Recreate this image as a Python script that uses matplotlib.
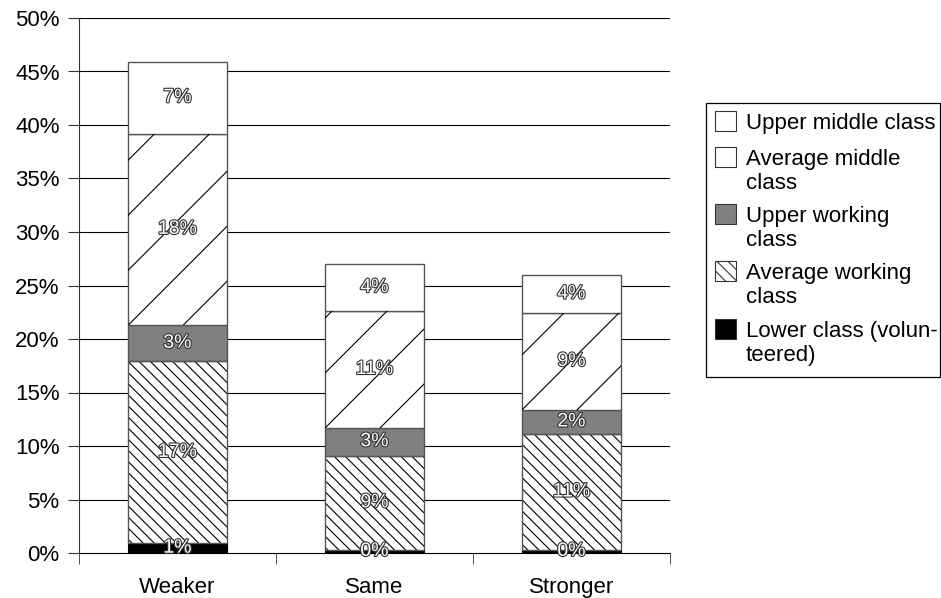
import numpy as np
import matplotlib
matplotlib.use("Agg")
import matplotlib.pyplot as plt
import matplotlib.patheffects as pe
from matplotlib.lines import Line2D
from matplotlib.patches import Rectangle

plt.rcParams['font.family'] = ['Liberation Sans', 'DejaVu Sans']
plt.rcParams['hatch.linewidth'] = 0.8

# Perceived change in class position, share of respondents (%)
categories = ['Weaker', 'Same', 'Stronger']
lower_class = [0.9, 0.3, 0.3]
average_working = [17.0, 8.8, 10.8]
upper_working = [3.4, 2.6, 2.3]
average_middle = [17.9, 10.9, 9.0]
upper_middle = [6.7, 4.4, 3.6]

series = [lower_class, average_working, upper_working, average_middle, upper_middle]
legend_labels = ['Upper middle class', 'Average middle\nclass', 'Upper working\nclass',
                 'Average working\nclass', 'Lower class (volun-\nteered)']

W, H = 941, 598
fig = plt.figure(figsize=(W / 100, H / 100), dpi=100)
ax = fig.add_axes([79 / W, 1 - 553 / H, (670 - 79) / W, (553 - 18) / H])

x = np.arange(len(categories))
width = 0.5
edge = '#555555'

ax.set_xlim(-0.5, 2.5)
ax.set_ylim(0, 50)

# horizontal grid
for yv in range(5, 51, 5):
    ax.axhline(yv, color='black', lw=0.8, zorder=0)

bottom = np.zeros(len(categories))
sparse_bars = []
for i, vals in enumerate(series):
    vals = np.array(vals)
    if i == 0:
        ax.bar(x, vals, width, bottom=bottom, color='black', edgecolor='black', lw=0.8, zorder=2)
    elif i == 1:
        ax.bar(x, vals, width, bottom=bottom, color='white', edgecolor='black', lw=0,
               hatch='\\\\\\', zorder=2)
        ax.bar(x, vals, width, bottom=bottom, fill=False, edgecolor=edge, lw=1.0, zorder=3)
    elif i == 2:
        ax.bar(x, vals, width, bottom=bottom, color='#808080', edgecolor=edge, lw=1.0, zorder=2)
    elif i == 3:
        bars = ax.bar(x, vals, width, bottom=bottom, color='white', edgecolor=edge, lw=1.0, zorder=2)
        sparse_bars = list(bars)
    else:
        ax.bar(x, vals, width, bottom=bottom, color='white', edgecolor=edge, lw=1.0, zorder=2)

    for xi, b, v in zip(x, bottom, vals):
        ax.text(xi, b + v / 2, f'{v:.0f}%', ha='center', va='center', fontsize=14,
                color='white', zorder=6,
                path_effects=[pe.withStroke(linewidth=1.6, foreground='#333333')])
    bottom = bottom + vals

# wide diagonal hatching for the average middle class segments
bbox = ax.get_window_extent()
px_per_x = bbox.width / 3.0
px_per_y = bbox.height / 50.0
slope = px_per_x / px_per_y  # 45 degrees on screen
step_px = 55
for p in sparse_bars:
    x0, y0 = p.get_x(), p.get_y()
    w, h = p.get_width(), p.get_height()
    span = int((w * px_per_x + h * px_per_y) / step_px) + 2
    for k in range(-span, span + 1):
        xs = np.array([x0 - w, x0 + 2 * w])
        ys = y0 + k * step_px / px_per_y + (xs - x0) * slope
        ln = Line2D(xs, ys, color='black', lw=0.8, zorder=4)
        ax.add_line(ln)
        ln.set_clip_path(p)

for s in ['top', 'right']:
    ax.spines[s].set_visible(False)
ax.spines['left'].set_color('#333333')
ax.spines['bottom'].set_color('black')

ax.set_yticks(range(0, 51, 5))
ax.set_yticklabels([f'{v}%' for v in range(0, 51, 5)], fontsize=16)
ax.tick_params(axis='y', direction='out', length=8, color='#333333', pad=6)

ax.set_xticks(x)
ax.set_xticklabels(categories, fontsize=16)
ax.set_xticks([-0.5, 0.5, 1.5, 2.5], minor=True)
ax.tick_params(axis='x', which='major', length=0, pad=17)
ax.tick_params(axis='x', which='minor', direction='out', length=8, color='#333333')

# legend box drawn in figure pixels, handles aligned with the first text line
def fx(px):
    return px / W

def fy(py):
    return 1 - py / H

fig.add_artist(Rectangle((fx(706), fy(377)), fx(940) - fx(706), fy(103) - fy(377),
                         transform=fig.transFigure, facecolor='white', edgecolor='black',
                         lw=0.9, zorder=5))
swatches = [
    dict(facecolor='white'),
    dict(facecolor='white'),
    dict(facecolor='#808080'),
    dict(facecolor='white', hatch='\\\\\\'),
    dict(facecolor='black'),
]
first_line_y = [121, 157, 214, 271, 329]
line_step = 24
for lab, sw, cy in zip(legend_labels, swatches, first_line_y):
    fig.add_artist(Rectangle((fx(715), fy(cy + 10)), fx(736) - fx(715), fy(cy - 10) - fy(cy + 10),
                             transform=fig.transFigure, edgecolor='#333333', lw=0.8,
                             zorder=6, **sw))
    for j, line in enumerate(lab.split('\n')):
        fig.text(fx(746), fy(cy + 8 + j * line_step), line, fontsize=16,
                 ha='left', va='baseline', zorder=7)

fig.savefig('out.png', dpi=100)
